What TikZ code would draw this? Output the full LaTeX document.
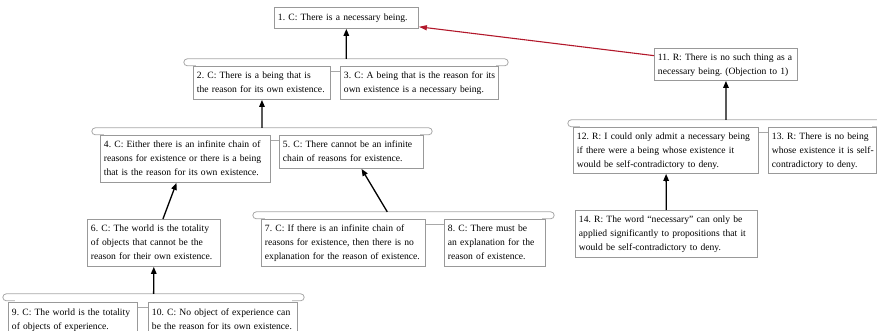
\documentclass[tikz,border=0pt]{standalone}
\usepackage{fontspec}
\setmainfont{Liberation Serif}
\usetikzlibrary{arrows.meta,fit}
\definecolor{boxgray}{HTML}{999999}
\definecolor{brkgray}{HTML}{A8A8A8}
\definecolor{objred}{HTML}{B2182B}
\frenchspacing
% stacked lines of a claim, never re-wrapped
\newcommand\cardlines[1]{\begin{tabular}{@{}l@{}}#1\end{tabular}}

\begin{document}
\begin{tikzpicture}[x=1pt,y=-1pt,
  claim/.style={draw=boxgray, line width=0.9pt, fill=white, anchor=north west,
    align=left, inner xsep=3.5pt, inner ysep=0pt,
    font=\fontsize{9.6}{14}\selectfont},
  grp/.style={inner sep=0pt, draw=none},
  brk/.style={draw=brkgray, line width=0.8pt, rounded corners=3.5pt},
  link/.style={draw=brkgray, line width=0.8pt},
  arr/.style={line width=1.3pt, -{Triangle[length=7pt,width=5.5pt]}},
  obj/.style={line width=1.1pt, draw=objred, -{Triangle[length=8pt,width=5pt]}}
]
\useasboundingbox (0,0) rectangle (877,331);

% groups of co-premises (bracket top down to the boxes' bottom)
\node[grp, fit={(184,59) (508,99)}] (gA) {};
\node[grp, fit={(92,128) (432,182)}] (gB) {};
\node[grp, fit={(253,212) (554,266)}] (gC) {};
\node[grp, fit={(3,294) (304,336)}] (gD) {};
\node[grp, fit={(568,120) (884,173)}] (gE) {};

% brackets over each group
\foreach \g in {gA,gB,gC,gD,gE}{
  \draw[brk] ([xshift=12pt,yshift=-7pt]\g.north west) -- ([yshift=-7pt]\g.north west)
    -- (\g.north west) -- (\g.north east) -- ([yshift=-7pt]\g.north east)
    -- ([xshift=-12pt,yshift=-7pt]\g.north east);
}

% claims
\node[claim, text width=137pt, minimum height=21pt] (b1) at (274,7)
  {\cardlines{1. C: There is a necessary being.}};
\node[claim, text width=130pt, minimum height=33pt] (b2) at (193,66)
  {\cardlines{2. C: There is a being that is\\the reason for its own existence.}};
\node[claim, text width=151pt, minimum height=33pt] (b3) at (340,66)
  {\cardlines{3. C: A being that is the reason for its\\own existence is a necessary being.}};
\node[claim, text width=163pt, minimum height=47pt] (b4) at (100,135)
  {\cardlines{4. C: Either there is an infinite chain of\\reasons for existence or there is a being\\that is the reason for its own existence.}};
\node[claim, text width=137pt, minimum height=33pt] (b5) at (279,135)
  {\cardlines{5. C: There cannot be an infinite\\chain of reasons for existence.}};
\node[claim, text width=126pt, minimum height=47pt] (b6) at (87,219)
  {\cardlines{6. C: The world is the totality\\of objects that cannot be the\\reason for their own existence.}};
\node[claim, text width=157pt, minimum height=47pt] (b7) at (261,219)
  {\cardlines{7. C: If there is an infinite chain of\\reasons for existence, then there is no\\explanation for the reason of existence.}};
\node[claim, text width=94pt, minimum height=47pt] (b8) at (444,219)
  {\cardlines{8. C: There must be\\an explanation for the\\reason of existence.}};
\node[claim, text width=122pt, minimum height=34pt] (b9) at (8,302)
  {\cardlines{9. C: The world is the totality\\of objects of experience.}};
\node[claim, text width=142pt, minimum height=34pt] (b10) at (148,302)
  {\cardlines{10. C: No object of experience can\\be the reason for its own existence.}};
\node[claim, text width=136pt, minimum height=32pt] (b11) at (654,48)
  {\cardlines{11. R: There is no such thing as a\\necessary being. (Objection to 1)}};
\node[claim, text width=178pt, minimum height=46pt] (b12) at (573,127)
  {\cardlines{12. R: I could only admit a necessary being\\if there were a being whose existence it\\would be self-contradictory to deny.}};
\node[claim, text width=101pt, minimum height=46pt] (b13) at (768,127)
  {\cardlines{13. R: There is no being\\whose existence it is self-\\contradictory to deny.}};
\node[claim, text width=175pt, minimum height=47pt] (b14) at (575,210)
  {\cardlines{14. R: The word “necessary” can only be\\applied significantly to propositions that it\\would be self-contradictory to deny.}};

% links joining co-premises
\foreach \a/\b in {b2/b3,b4/b5,b7/b8,b9/b10,b12/b13}{
  \draw[link] ([yshift=-5pt]\a.north east) -- ([yshift=-5pt]\b.north west);
}

% support arrows
\draw[arr] (gA) -- (b1);
\draw[arr] (gB) -- (b2);
\draw[arr] (b6) -- (b4);
\draw[arr] (gC) -- (b5);
\draw[arr] (gD) -- (b6);
\draw[arr] (gE) -- (b11);
\draw[arr] (b14) -- (b12);

% objection
\draw[obj] (b11) -- (b1);
\end{tikzpicture}
\end{document}
